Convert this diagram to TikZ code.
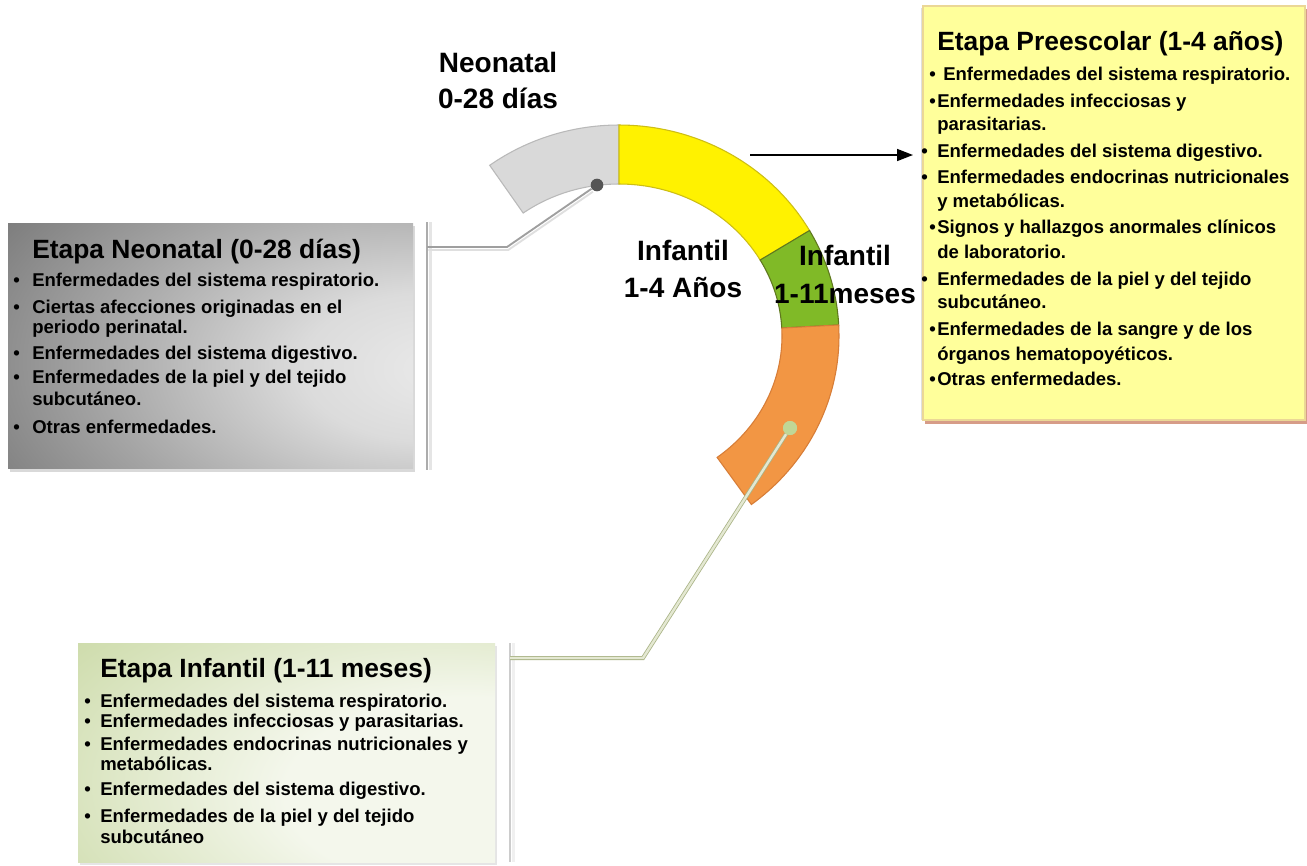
\documentclass[tikz,border=0pt]{standalone}
\usepackage{fontspec}
\setmainfont{Liberation Sans}
\usetikzlibrary{arrows.meta}
\definecolor{segGray}{RGB}{217,217,217}
\definecolor{segGrayD}{RGB}{185,185,185}
\definecolor{segYel}{RGB}{255,242,0}
\definecolor{segYelD}{RGB}{205,190,20}
\definecolor{segGrn}{RGB}{128,186,39}
\definecolor{segGrnD}{RGB}{95,120,30}
\definecolor{segOra}{RGB}{242,150,68}
\definecolor{segOraD}{RGB}{215,125,55}
\definecolor{boxYel}{RGB}{255,255,155}
\definecolor{boxYelEdge}{RGB}{235,215,150}
\definecolor{boxYelShadow}{RGB}{214,156,136}
\definecolor{gbLight}{RGB}{244,247,236}
\definecolor{gbMid}{RGB}{206,220,172}
\definecolor{gbDark}{RGB}{160,186,112}
\definecolor{conGrn}{RGB}{170,180,135}
\definecolor{conGrnL}{RGB}{228,232,210}
\definecolor{dotGrn}{RGB}{192,215,150}
\definecolor{dotGray}{RGB}{85,85,85}
\pgfdeclareradialshading{grayshade}{\pgfpoint{30bp}{-5bp}}{color(0bp)=(black!8); color(15bp)=(black!14); color(35bp)=(black!35); color(55bp)=(black!55); color(80bp)=(black!66); color(120bp)=(black!72)}
\pgfdeclareradialshading{greenshade}{\pgfpoint{28bp}{-12bp}}{color(0bp)=(gbLight); color(22bp)=(gbLight); color(50bp)=(gbMid); color(100bp)=(gbDark)}
\newcommand\mybody{\fontsize{13.9}{16}\selectfont\bfseries}
\newcommand\mytitle{\fontsize{19.8}{22}\selectfont\bfseries}
\newcommand\mylabel{\fontsize{21}{24}\selectfont\bfseries}
\begin{document}
\begin{tikzpicture}[x=0.75pt,y=-0.75pt,
  txt/.style={anchor=base west,inner sep=0pt,font=\mybody},
  ttl/.style={anchor=base west,inner sep=0pt,font=\mytitle},
  lbl/.style={anchor=base,inner sep=0pt,font=\mylabel},
  seg/.style={line width=0.8pt},
  grayline/.style={draw=gray!75,line width=1.4pt},
  grayshadow/.style={draw=gray!25,line width=1.4pt},
  grnline/.style={draw=conGrn,line width=0.6pt,double=conGrnL,double distance=1.8pt},
  bracket/.style={line width=1.8pt}]
\useasboundingbox (0,0) rectangle (1307,865);
\fill[white] (0,0) rectangle (1307,865);

% ---- boxes ----
\fill[gray!30] (10,226) rectangle (415,472);
\shade[shading=grayshade] (8,223) rectangle (413,468);
\fill[boxYelShadow] (925,9) rectangle (1307,424);
\fill[gray!25] (921,8) rectangle (925,420);
\fill[boxYel,draw=boxYelEdge,line width=0.8pt] (923,6) rectangle (1305,420);
\fill[gray!20] (80,646) rectangle (497,865);
\shade[shading=greenshade] (78,643) rectangle (495,862);

% ---- brackets ----
\coordinate (lbt) at (427,222);
\coordinate (lbb) at (427,470);
\draw[bracket,gray!20] ([xshift=2.5]lbt) -- ([xshift=2.5]lbb);
\draw[bracket,gray!65] (lbt) -- (lbb);
\coordinate (bbt) at (510,643);
\coordinate (bbb) at (510,862);
\draw[bracket,gray!12] ([xshift=2.5]bbt) -- ([xshift=2.5]bbb);
\draw[bracket,gray!40] (bbt) -- (bbb);

% ---- ring segments ----
\filldraw[seg,fill=segGray,draw=segGrayD]
  plot[domain=-126:-90,samples=30] ({619+220*cos(\x)},{336+211*sin(\x)})
  -- plot[domain=-90:-126,samples=30] ({619+163*cos(\x)},{336+152*sin(\x)}) -- cycle;
\filldraw[seg,fill=segYel,draw=segYelD]
  plot[domain=-90:-30,samples=40] ({619+220*cos(\x)},{336+211*sin(\x)})
  -- plot[domain=-30:-90,samples=40] ({619+163*cos(\x)},{336+152*sin(\x)}) -- cycle;
\filldraw[seg,fill=segGrn,draw=segGrnD]
  plot[domain=-30:-3,samples=30] ({619+220*cos(\x)},{336+211*sin(\x)})
  -- plot[domain=-3:-30,samples=30] ({619+163*cos(\x)},{336+152*sin(\x)}) -- cycle;
\filldraw[seg,fill=segOra,draw=segOraD]
  plot[domain=-3:53,samples=40] ({619+220*cos(\x)},{336+211*sin(\x)})
  -- plot[domain=53:-3,samples=40] ({619+163*cos(\x)},{336+152*sin(\x)}) -- cycle;

% ---- dots ----
\node[circle,fill=dotGray,inner sep=0pt,minimum size=9.5pt] (gdot) at (597,185) {};
\node[circle,fill=dotGrn,inner sep=0pt,minimum size=10.5pt] (odot) at (790,428) {};

% ---- connectors ----
\coordinate (gbend) at (507,247);
\coordinate (gend) at (427,247);
\draw[grayshadow,transform canvas={shift={(1pt,-2.2pt)}}] (gdot) -- (gbend) -- (gend);
\draw[grayline] (gdot) -- (gbend) -- (gend);
\coordinate (obend) at (643,658);
\coordinate (oend) at (510,658);
\draw[grnline] (odot) -- (obend) -- (oend);
\node[circle,fill=dotGrn,inner sep=0pt,minimum size=10.5pt] at (odot) {};

% ---- arrow ----
\coordinate (astart) at (750,155);
\coordinate (aend) at (913,155);
\draw[line width=1.2pt,-{Triangle[length=12pt,width=9pt]}] (astart) -- (aend);

% ---- ring labels ----
\node[lbl] (neo1) at (498,72) {Neonatal};
\node[lbl] (neo2) at (498,108) {0-28 días};
\node[lbl] (inf1) at (683,260) {Infantil};
\node[lbl] (inf2) at (683,297) {1-4 Años};
\node[lbl] (inm1) at (845,265) {Infantil};
\node[lbl] (inm2) at (845,303) {1-11meses};

% ---- left box text ----
\node[ttl] (lt) at (32,258) {Etapa Neonatal (0-28 días)};
\node[txt] (lb1) at (13,286) {•};
\node[txt] (l1) at (32,286) {Enfermedades del sistema respiratorio.};
\node[txt] (lb2) at (13,313) {•};
\node[txt] (l2) at (32,313) {Ciertas afecciones originadas en el};
\node[txt] (l3) at (32,333) {periodo perinatal.};
\node[txt] (lb4) at (13,359) {•};
\node[txt] (l4) at (32,359) {Enfermedades del sistema digestivo.};
\node[txt] (lb5) at (13,383) {•};
\node[txt] (l5) at (32,383) {Enfermedades de la piel y del tejido};
\node[txt] (l6) at (32,405) {subcutáneo.};
\node[txt] (lb7) at (13,433) {•};
\node[txt] (l7) at (32,433) {Otras enfermedades.};

% ---- right box text ----
\node[ttl] (rt) at (937,50) {Etapa Preescolar (1-4 años)};
\node[txt] (rb1) at (929,80) {•};
\node[txt] (r1) at (943,80) {Enfermedades del sistema respiratorio.};
\node[txt] (rb2) at (929,107) {•};
\node[txt] (r2) at (937,107) {Enfermedades infecciosas y};
\node[txt] (r3) at (937,130) {parasitarias.};
\node[txt] (rb4) at (921,157) {•};
\node[txt] (r4) at (937,157) {Enfermedades del sistema digestivo.};
\node[txt] (rb5) at (921,183) {•};
\node[txt] (r5) at (937,183) {Enfermedades endocrinas nutricionales};
\node[txt] (r6) at (937,207) {y metabólicas.};
\node[txt] (rb7) at (929,233) {•};
\node[txt] (r7) at (937,233) {Signos y hallazgos anormales clínicos};
\node[txt] (r8) at (937,258) {de laboratorio.};
\node[txt] (rb9) at (921,285) {•};
\node[txt] (r9) at (937,285) {Enfermedades de la piel y del tejido};
\node[txt] (r10) at (937,308) {subcutáneo.};
\node[txt] (rb11) at (929,335) {•};
\node[txt] (r11) at (937,335) {Enfermedades de la sangre y de los};
\node[txt] (r12) at (937,360) {órganos hematopoyéticos.};
\node[txt] (rb13) at (929,385) {•};
\node[txt] (r13) at (937,385) {Otras enfermedades.};

% ---- bottom box text ----
\node[ttl] (bt) at (100,677) {Etapa Infantil (1-11 meses)};
\node[txt] (bb1) at (84,707) {•};
\node[txt] (b1) at (100,707) {Enfermedades del sistema respiratorio.};
\node[txt] (bb2) at (84,727) {•};
\node[txt] (b2) at (100,727) {Enfermedades infecciosas y parasitarias.};
\node[txt] (bb3) at (84,750) {•};
\node[txt] (b3) at (100,750) {Enfermedades endocrinas nutricionales y};
\node[txt] (b4) at (100,770) {metabólicas.};
\node[txt] (bb5) at (84,795) {•};
\node[txt] (b5) at (100,795) {Enfermedades del sistema digestivo.};
\node[txt] (bb6) at (84,822) {•};
\node[txt] (b6) at (100,822) {Enfermedades de la piel y del tejido};
\node[txt] (b7) at (100,843) {subcutáneo};
\end{tikzpicture}
\end{document}
